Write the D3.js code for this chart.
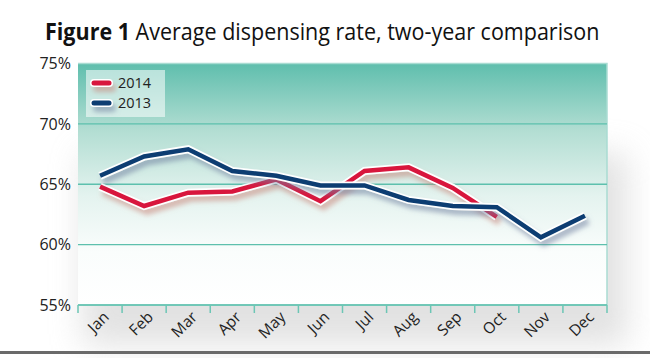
<!DOCTYPE html>
<html><head><meta charset="utf-8">
<script src="https://cdn.jsdelivr.net/npm/d3@7"></script>
<style>body{margin:0;background:#fff}svg{display:block}</style>
</head><body><svg id="c" width="650" height="358"></svg>
<script>
const months = ["Jan","Feb","Mar","Apr","May","Jun","Jul","Aug","Sep","Oct","Nov","Dec"];
const values2014 = [64.8,63.2,64.3,64.4,65.4,63.6,66.1,66.4,64.7,62.3];
const values2013 = [65.7,67.3,67.9,66.1,65.7,64.9,64.9,63.7,63.2,63.1,60.6,62.4];
const yTicks = [55,60,65,70,75];
const seriesNames = ["2014","2013"];
const colors = ["#d8173c","#0b3d72"];

const svg = d3.select("#c");
const m = {l:78, r:607, t:63.5, b:305};
const x = d3.scaleBand().domain(months).range([m.l, m.r]);
const y = d3.scaleLinear().domain([55,75]).range([m.b, m.t]);
const defs = svg.append("defs");
const g = defs.append("linearGradient").attr("id","bg").attr("x1",0).attr("x2",0).attr("y1",0).attr("y2",1);
g.append("stop").attr("offset","0").attr("stop-color","#5fbead");
g.append("stop").attr("offset","0.28").attr("stop-color","#b3ded3");
g.append("stop").attr("offset","0.55").attr("stop-color","#e4f3ef");
g.append("stop").attr("offset","0.78").attr("stop-color","#fafdfc");
g.append("stop").attr("offset","1").attr("stop-color","#ffffff");
const vf = defs.append("filter").attr("id","vig").attr("filterUnits","userSpaceOnUse")
  .attr("x",0).attr("y",0).attr("width",650).attr("height",358);
vf.append("feGaussianBlur").attr("stdDeviation",16);
colors.forEach((c,i)=>{
  const f = defs.append("filter").attr("id","sh"+i).attr("filterUnits","userSpaceOnUse")
    .attr("x",0).attr("y",0).attr("width",650).attr("height",358);
  f.append("feDropShadow").attr("dx",3).attr("dy",5).attr("stdDeviation",2.5).attr("flood-color", i===0?"#c9857a":"#6f7fa0").attr("flood-opacity",0.55);
});

// vignette
svg.append("rect").attr("x",m.l+5).attr("y",m.t+90).attr("width",m.r-m.l+15).attr("height",m.b-m.t-50)
  .attr("fill","#cfcfcf").attr("opacity",0.6).attr("filter","url(#vig)");
svg.append("rect").attr("x",m.l).attr("y",m.t).attr("width",m.r-m.l).attr("height",m.b-m.t).attr("fill","url(#bg)");
svg.append("path").attr("d",`M${m.l},${m.t}H${m.r}V${m.b}`).attr("fill","none").attr("stroke","#a9dcd2").attr("stroke-width",1.5);

// gridlines
svg.append("g").selectAll("line").data(yTicks.filter(d=>d<75)).join("line")
  .attr("x1",m.l).attr("x2",m.r).attr("y1",d=>y(d)).attr("y2",d=>y(d))
  .attr("stroke","#5dc0ad").attr("stroke-width",1.3);

// y labels
const yAxis = svg.append("g").attr("transform",`translate(${m.l},0)`)
  .call(d3.axisLeft(y).tickValues(yTicks).tickFormat(d=>d+"%").tickSize(0).tickPadding(7));
yAxis.select(".domain").remove();
yAxis.selectAll("text").attr("font-family","Open Sans").attr("font-size",16).attr("fill","#222");

// x axis ticks
const tickPos = months.map(d=>x(d)).concat([m.r]);
svg.append("g").selectAll("line").data(tickPos).join("line")
  .attr("x1",d=>d).attr("x2",d=>d).attr("y1",m.b).attr("y2",m.b+8)
  .attr("stroke","#6cc6b5").attr("stroke-width",1.5);
svg.append("line").attr("x1",m.l).attr("x2",m.r).attr("y1",m.b).attr("y2",m.b).attr("stroke","#6cc6b5").attr("stroke-width",1.5);
svg.append("g").selectAll("text").data(months).join("text")
  .attr("transform",d=>`translate(${x(d)+x.bandwidth()/2+10},${m.b+13}) rotate(-45)`)
  .attr("text-anchor","end").attr("font-family","Open Sans").attr("font-size",15.5).attr("fill","#222").text(d=>d);

// lines
const line = d3.line().x((d,i)=>x(months[i])+x.bandwidth()/2).y(d=>y(d));
const data = [values2014, values2013];
data.forEach((vals,i)=>{
  const gg = svg.append("g").attr("filter","url(#sh"+i+")");
  gg.append("path").datum(vals).attr("d",line).attr("fill","none").attr("stroke","#fff").attr("stroke-width",8).attr("stroke-linejoin","miter");
  gg.append("path").datum(vals).attr("d",line).attr("fill","none").attr("stroke",colors[i]).attr("stroke-width",4.5).attr("stroke-linejoin","miter");
});

// legend
const lg = svg.append("g");
lg.append("rect").attr("x",86).attr("y",70).attr("width",79).attr("height",47).attr("fill","#fff").attr("opacity",0.55);
seriesNames.forEach((n,i)=>{
  const yy = 83 + i*20;
  const gg = lg.append("g").attr("filter","url(#sh"+i+")");
  gg.append("line").attr("x1",94).attr("x2",109).attr("y1",yy).attr("y2",yy).attr("stroke","#fff").attr("stroke-width",8).attr("stroke-linecap","round");
  gg.append("line").attr("x1",94).attr("x2",109).attr("y1",yy).attr("y2",yy).attr("stroke",colors[i]).attr("stroke-width",5).attr("stroke-linecap","round");
  lg.append("text").attr("x",118).attr("y",yy+5.3).attr("font-family","Open Sans").attr("font-size",14.5).attr("fill","#222").text(n);
});

// title
const t = svg.append("text").attr("x",0).attr("y",0)
  .attr("font-family","Open Sans").attr("font-size",23.5).attr("fill","#111");
t.append("tspan").attr("font-weight","bold").text("Figure 1");
t.append("tspan").text(" Average dispensing rate, two-year comparison");
const tw = t.node().getComputedTextLength();
t.attr("transform",`translate(45,40) scale(${555/tw},1)`);

// bottom bar
svg.append("rect").attr("x",0).attr("y",351).attr("width",650).attr("height",3).attr("fill","#6a6a6a");
</script></body></html>
